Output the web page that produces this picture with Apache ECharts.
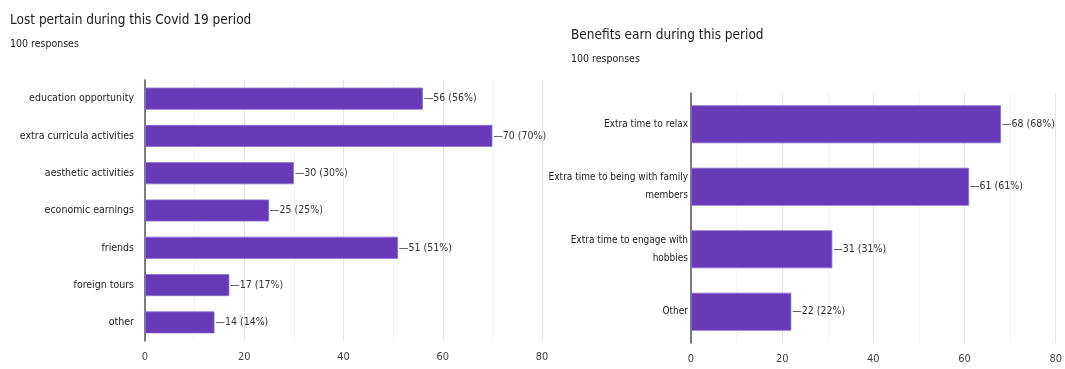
<!DOCTYPE html>
<html>
<head>
<meta charset="utf-8">
<script src="https://cdn.jsdelivr.net/npm/echarts@6/dist/echarts.min.js"></script>
<style>
  html, body { margin: 0; padding: 0; background: #fff; }
  #chart { width: 1065px; height: 369px; }
</style>
</head>
<body>
<div id="chart"></div>
<script>
// Survey: things lost during the Covid 19 period
const lostCategories = [
  'education opportunity',
  'extra curricula activities',
  'aesthetic activities',
  'economic earnings',
  'friends',
  'foreign tours',
  'other'
];
const lostValues = [56, 70, 30, 25, 51, 17, 14];

// Survey: benefits earned during the same period
const benefitCategories = [
  'Extra time to relax',
  'Extra time to being with family\nmembers',
  'Extra time to engage with\nhobbies',
  'Other'
];
const benefitValues = [68, 61, 31, 22];

const responses = 100;
const axisTicks = [0, 20, 40, 60, 80];

const FONT = '"DejaVu Sans Condensed", Roboto, sans-serif';
const PURPLE = '#673ab7';

function pct(v) { return Math.round(v / responses * 100); }

function xAxisFor(gridIndex) {
  return {
    type: 'value',
    gridIndex,
    min: axisTicks[0],
    max: axisTicks[axisTicks.length - 1],
    interval: axisTicks[1] - axisTicks[0],
    axisLine: { show: false },
    axisTick: { show: false },
    axisLabel: { color: '#444', fontFamily: FONT, fontSize: 11, margin: 11 },
    splitLine: { show: true, lineStyle: { color: '#e4e4e4', width: 1 } },
    minorTick: { show: false, splitNumber: 2 },
    minorSplitLine: { show: true, lineStyle: { color: '#f3f3f3', width: 1 } }
  };
}

function yAxisFor(gridIndex, cats, margin, size) {
  return {
    type: 'category',
    gridIndex,
    data: cats,
    inverse: true,
    axisLine: { show: true, lineStyle: { color: '#555', width: 1.5 } },
    axisTick: { show: false },
    axisLabel: { color: '#222', fontFamily: FONT, fontSize: size, margin, lineHeight: 18, align: 'right' }
  };
}

function barSeries(index, values, width) {
  return {
    type: 'bar',
    xAxisIndex: index,
    yAxisIndex: index,
    data: values,
    barWidth: width,
    itemStyle: { color: PURPLE, borderColor: '#8c6fd0', borderWidth: 0.8 },
    label: {
      show: true,
      position: 'right',
      distance: 1,
      color: '#333',
      fontFamily: FONT,
      fontSize: 10.5,
      formatter: p => '\u2014' + p.value + ' (' + pct(p.value) + '%)'
    },
    silent: true
  };
}

const chart = echarts.init(document.getElementById('chart'), null, { renderer: 'canvas' });
chart.setOption({
  animation: false,
  backgroundColor: '#fff',
  title: [
    {
      text: 'Lost pertain during this Covid 19 period',
      subtext: responses + ' responses',
      left: 5, top: 8,
      itemGap: 12,
      textStyle: { fontFamily: FONT, fontSize: 13.5, fontWeight: 'normal', color: '#202124' },
      subtextStyle: { fontFamily: FONT, fontSize: 10.5, color: '#202124' }
    },
    {
      text: 'Benefits earn during this period',
      subtext: responses + ' responses',
      left: 566, top: 23,
      itemGap: 12,
      textStyle: { fontFamily: FONT, fontSize: 13.5, fontWeight: 'normal', color: '#202124' },
      subtextStyle: { fontFamily: FONT, fontSize: 10.5, color: '#202124' }
    }
  ],
  grid: [
    { left: 145, right: 523, top: 80, bottom: 28, show: true, borderWidth: 0 },
    { left: 691, right: 7, top: 93, bottom: 26, show: true, borderWidth: 0 }
  ],
  xAxis: [xAxisFor(0), xAxisFor(1)],
  yAxis: [yAxisFor(0, lostCategories, 11, 10.5), yAxisFor(1, benefitCategories, 3, 10)],
  series: [barSeries(0, lostValues, 22), barSeries(1, benefitValues, 38)]
});
</script>
</body>
</html>
